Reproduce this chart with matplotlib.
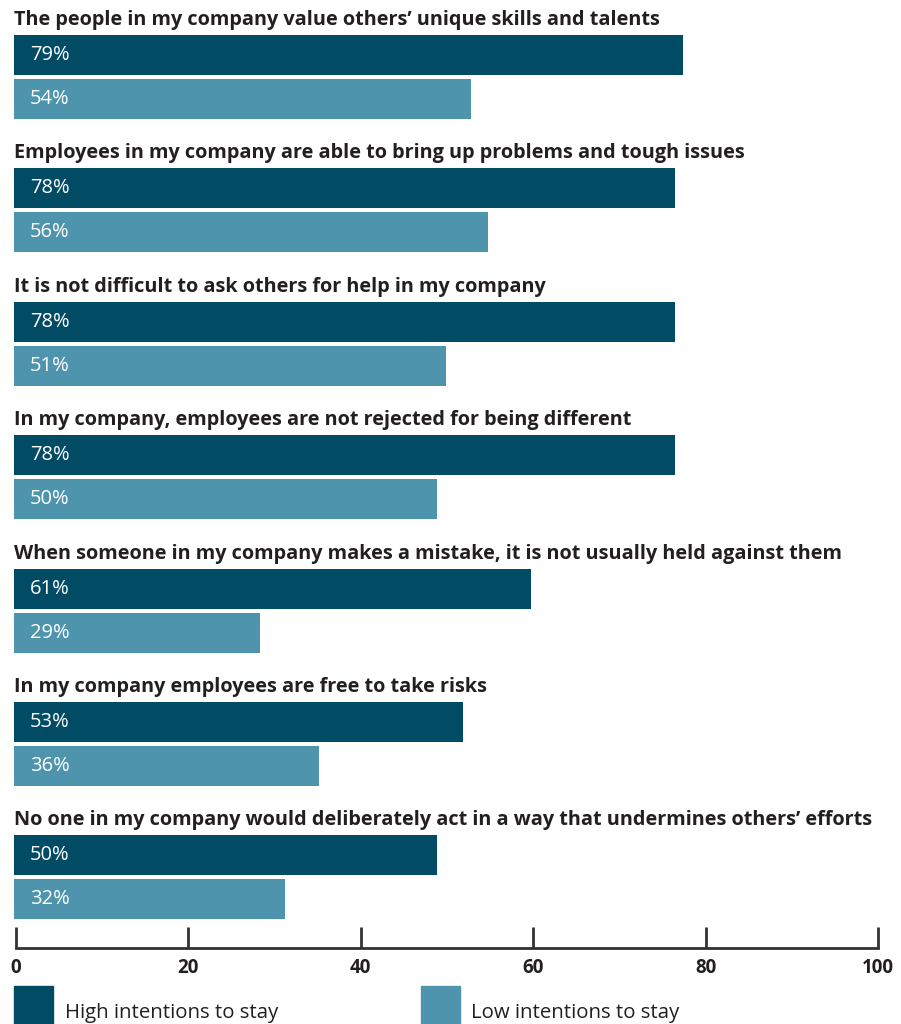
import matplotlib.pyplot as plt

statements = [
    "The people in my company value others\u2019 unique skills and talents",
    "Employees in my company are able to bring up problems and tough issues",
    "It is not difficult to ask others for help in my company",
    "In my company, employees are not rejected for being different",
    "When someone in my company makes a mistake, it is not usually held against them",
    "In my company employees are free to take risks",
    "No one in my company would deliberately act in a way that undermines others\u2019 efforts",
]
high_stay = [79, 78, 78, 78, 61, 53, 50]
low_stay = [54, 56, 51, 50, 29, 36, 32]
ticks = [0, 20, 40, 60, 80, 100]

dark = '#024B65'
light = '#4F94AD'
txt = '#231F20'

plt.rcParams['font.family'] = ['Open Sans', 'DejaVu Sans']

W, H = 901, 1024
fig = plt.figure(figsize=(W / 100, H / 100), dpi=100)

# bars axes: y in pixel units (inverted), x in percent
top_px, bot_px = 0, 925
ax = fig.add_axes([14 / W, 1 - bot_px / H, 847 / W, (bot_px - top_px) / H])
ax.set_xlim(0, 100)
ax.set_ylim(bot_px, top_px)
ax.axis('off')

step = 133.4
for i, (s, hi, lo) in enumerate(zip(statements, high_stay, low_stay)):
    y0 = 35 + i * step
    ax.barh(y0 + 20, hi, height=40, color=dark, left=0)
    ax.barh(y0 + 64, lo, height=40, color=light, left=0)
    ax.text(0, y0 - 10, s, fontsize=14.3, fontweight='bold', color=txt,
            va='baseline', ha='left')
    ax.text(1.9, y0 + 20, f'{hi}%', fontsize=14.5, color='white', va='center')
    ax.text(1.9, y0 + 64, f'{lo}%', fontsize=14.5, color='white', va='center')

# scale axis
axs = fig.add_axes([16 / W, 1 - 948 / H, 862 / W, 15 / H])
axs.set_xlim(0, 100)
axs.set_ylim(0, 1)
for sp in ['top', 'left', 'right']:
    axs.spines[sp].set_visible(False)
axs.spines['bottom'].set_linewidth(2)
axs.spines['bottom'].set_color('#333333')
axs.set_yticks([])
axs.set_xticks(ticks)
axs.tick_params(axis='x', direction='in', length=15, width=2, color='#333333', pad=7)
axs.set_xticklabels([str(t) for t in ticks], fontsize=13.5, fontweight='bold', color=txt)
axs.patch.set_alpha(0)

# legend
fig.patches.append(plt.Rectangle((14 / W, 0), 39 / W, 38 / H, color=dark,
                                 transform=fig.transFigure, figure=fig))
fig.patches.append(plt.Rectangle((421 / W, 0), 39 / W, 38 / H, color=light,
                                 transform=fig.transFigure, figure=fig))
fig.text(65 / W, 1 - 1018 / H, 'High intentions to stay', fontsize=14.7, color=txt)
fig.text(471 / W, 1 - 1018 / H, 'Low intentions to stay', fontsize=14.7, color=txt)

fig.savefig('out.png', dpi=100, facecolor='white')
